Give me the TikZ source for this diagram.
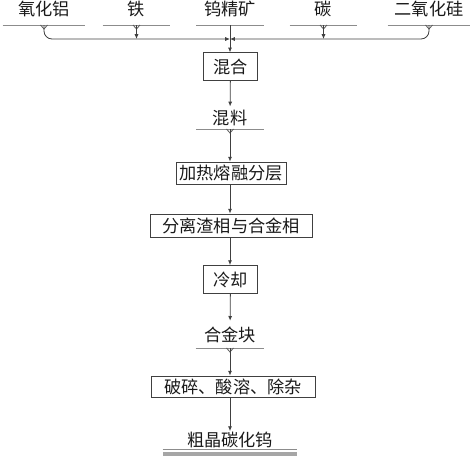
\documentclass[tikz,border=0pt]{standalone}
\usepackage{fontspec}
\usepackage{tikz}
\usetikzlibrary{arrows.meta}
\newfontfamily\cjk{Noto Sans CJK SC}

\begin{document}
\begin{tikzpicture}[x=0.75pt, y=-0.75pt,
        every node/.style={font=\cjk\fontsize{12.9}{15}\selectfont, text=black!90},
        box/.style={draw=black!75, line width=0.6pt, inner sep=0pt},
        mat/.style={anchor=south, inner sep=0pt, minimum height=17pt},
        conn/.style={draw=black!75, line width=0.6pt, -{Latex[length=3.6pt,width=3pt]}},
        rule/.style={draw=black!45, line width=0.6pt}]
        \useasboundingbox (0,0) rectangle (474,457);

        \node[mat, minimum width=61.5pt, minimum height=23pt] (al) at (44,25) {氧化铝};
        \node[mat, minimum width=50.25pt, minimum height=23pt] (fe) at (136.5,25) {铁};
        \node[mat, minimum width=50.25pt, minimum height=23pt] (w) at (230,25) {钨精矿};
        \node[mat, minimum width=50.25pt, minimum height=23pt] (c) at (323.5,25) {碳};
        \node[mat, minimum width=61.5pt, minimum height=23pt] (si) at (429,25) {二氧化硅};
        \coordinate (jn) at (230,39);

        \node[box, minimum width=41pt, minimum height=20.5pt] (mix) at (230.5,66.5) {混合};
        \node[mat, minimum width=50.25pt, minimum height=16.5pt] (mixed) at (230,129) {混料};
        \node[box, minimum width=82.5pt, minimum height=16.5pt] (heat) at (231,173) {加热熔融分层};
        \node[box, minimum width=121.5pt, minimum height=17.25pt] (sep) at (231,225.5) {分离渣相与合金相};
        \node[box, minimum width=40.5pt, minimum height=21pt] (cool) at (230.5,279.5) {冷却};
        \node[mat, minimum width=51pt, minimum height=20pt] (alloy) at (230,348) {合金块};
        \node[box, minimum width=123pt, minimum height=15.75pt] (crush) at (233,386.5) {破碎、酸溶、除杂};
        \node[mat, minimum width=100.5pt, minimum height=13pt] (prod) at (230,449) {粗晶碳化钨};

        \foreach \n in {al,fe,w,c,si,mixed,alloy,prod}
            \draw[rule] (\n.south west) -- (\n.south east);
        \foreach \n in {al,fe,c,si,mixed,alloy}
            \draw[rule, black!65] ([xshift=-2.6pt]\n.south) -- ([yshift=-3pt]\n.south) -- ([xshift=2.6pt]\n.south);
        \fill[black!35] ([yshift=-2.4pt]prod.south west) rectangle ([yshift=-5.3pt]prod.south east);

        \draw[conn, rounded corners=6pt] (al.south) |- (jn);
        \draw[conn, rounded corners=6pt] (si.south) |- (jn);
        \draw[conn] (fe.south) -- (fe.south |- jn);
        \draw[conn] (c.south) -- (c.south |- jn);
        \draw[conn] (w.south) -- (w.south |- mix.north);
        \draw[conn] (mix) -- (mixed);
        \draw[conn] (mixed.south) -- (mixed.south |- heat.north);
        \draw[conn] (mixed.south |- heat.south) -- (mixed.south |- sep.north);
        \draw[conn] (mixed.south |- sep.south) -- (mixed.south |- cool.north);
        \draw[conn] (cool) -- (alloy);
        \draw[conn] (alloy.south) -- (alloy.south |- crush.north);
        \draw[conn] (alloy.south |- crush.south) -- (prod);
\end{tikzpicture}
\end{document}
